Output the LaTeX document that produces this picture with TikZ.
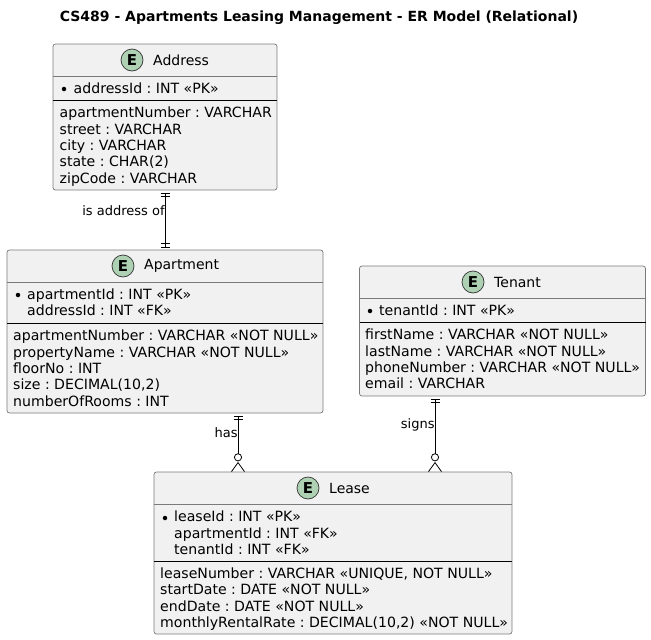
\documentclass[tikz,border=0pt]{standalone}
\usepackage{fontspec}
\setmainfont{DejaVu Sans}
\usepackage{xcolor}
\usepackage{tikz}
\usetikzlibrary{arrows.meta}
\usetikzlibrary{positioning}
\definecolor{boxfill}{HTML}{F1F1F1}
\definecolor{boxline}{HTML}{7A7A7A}
\definecolor{spot}{HTML}{ADD1B2}
\frenchspacing
\tikzstyle{entity} = [rectangle, draw=boxline, fill=boxfill, line width=.7pt, rounded corners=2.5pt, inner sep=0pt, outer sep=0pt]
\tikzstyle{spotE} = [circle, draw=black!80, fill=spot, line width=.7pt, minimum size=22pt, inner sep=0pt, font=\fontsize{15}{16}\selectfont\bfseries]
\tikzstyle{entname} = [anchor=west, inner sep=0pt, font=\fontsize{14}{16}\selectfont]
\tikzstyle{fields} = [anchor=north west, inner sep=0pt, align=left, font=\fontsize{14.1}{16.3}\selectfont]
\tikzstyle{dot} = [circle, fill=black, inner sep=0pt, minimum size=4.5pt]
\tikzstyle{headrule} = [draw=boxline, line width=.7pt]
\tikzstyle{keyrule} = [draw=black, line width=.8pt]
\tikzstyle{lbl} = [left, inner sep=0pt, font=\fontsize{13}{15}\selectfont]
\tikzset{
  oneone/.style={line width=.8pt, {Bar[width=9pt,line width=.8pt,sep=2.8pt]Bar[width=9pt,line width=.8pt,sep=2.4pt]}-{Bar[width=9pt,line width=.8pt,sep=2.8pt]Bar[width=9pt,line width=.8pt,sep=2.4pt]}},
  onemany/.style={line width=.8pt, {Bar[width=9pt,line width=.8pt,sep=2.8pt]Bar[width=9pt,line width=.8pt,sep=2.4pt]}-{Circle[open,fill=white,length=8pt,width=8pt,line width=.8pt,sep=.6pt].Straight Barb[reversed,length=9pt,width=13pt,line width=.8pt,sep=0pt]}}
}

\begin{document}
\begin{tikzpicture}[x=1pt, y=-1pt]
  \useasboundingbox (0,0) rectangle (651,640);

  % Title
  \node [inner sep=0pt, font=\fontsize{14}{16}\selectfont\bfseries] (title) at (319,18) {CS489 - Apartments Leasing Management - ER Model (Relational)};

  % Place entities
  \node [entity, minimum width=224pt, minimum height=146pt] (address) at (165,117) {};
  \node [entity, minimum width=316pt, minimum height=163pt] (apartment) at (165,331.5) {};
  \node [entity, minimum width=286pt, minimum height=130pt] (tenant) at (502.5,331) {};
  \node [entity, minimum width=358pt, minimum height=162pt] (lease) at (333,553) {};

  % Address
  \node [spotE] (addressE) at (132,60) {E};
  \node [entname] (addressName) at (153,60) {Address};
  \path [headrule] (address.west |- 0,76) -- (address.east |- 0,76);
  \path [keyrule] (address.west |- 0,100) -- (address.east |- 0,100);
  \node [dot] (addressDot) at (64,89) {};
  \node [fields] (addressKey) at (73.5,82.5) {addressId : INT «PK»};
  \node [fields] (addressAttr) at (59.5,107) {apartmentNumber : VARCHAR\\street : VARCHAR\\city : VARCHAR\\state : CHAR(2)\\zipCode : VARCHAR};

  % Apartment
  \node [spotE] (apartmentE) at (123,266) {E};
  \node [entname] (apartmentName) at (144,266) {Apartment};
  \path [headrule] (apartment.west |- 0,282) -- (apartment.east |- 0,282);
  \path [keyrule] (apartment.west |- 0,323) -- (apartment.east |- 0,323);
  \node [dot] (apartmentDot) at (18,295) {};
  \node [fields] (apartmentKey) at (27,288.5) {apartmentId : INT «PK»\\addressId : INT «FK»};
  \node [fields] (apartmentAttr) at (13,330) {apartmentNumber : VARCHAR «NOT NULL»\\propertyName : VARCHAR «NOT NULL»\\floorNo : INT\\size : DECIMAL(10,2)\\numberOfRooms : INT};

  % Tenant
  \node [spotE] (tenantE) at (473,282) {E};
  \node [entname] (tenantName) at (494,282) {Tenant};
  \path [headrule] (tenant.west |- 0,298) -- (tenant.east |- 0,298);
  \path [keyrule] (tenant.west |- 0,322) -- (tenant.east |- 0,322);
  \node [dot] (tenantDot) at (370,311) {};
  \node [fields] (tenantKey) at (379,304.5) {tenantId : INT «PK»};
  \node [fields] (tenantAttr) at (365,329) {firstName : VARCHAR «NOT NULL»\\lastName : VARCHAR «NOT NULL»\\phoneNumber : VARCHAR «NOT NULL»\\email : VARCHAR};

  % Lease
  \node [spotE] (leaseE) at (308,488) {E};
  \node [entname] (leaseName) at (329,488) {Lease};
  \path [headrule] (lease.west |- 0,504) -- (lease.east |- 0,504);
  \path [keyrule] (lease.west |- 0,561) -- (lease.east |- 0,561);
  \node [dot] (leaseDot) at (165,518) {};
  \node [fields] (leaseKey) at (174,511) {leaseId : INT «PK»\\apartmentId : INT «FK»\\tenantId : INT «FK»};
  \node [fields] (leaseAttr) at (160,567.5) {leaseNumber : VARCHAR «UNIQUE, NOT NULL»\\startDate : DATE «NOT NULL»\\endDate : DATE «NOT NULL»\\monthlyRentalRate : DECIMAL(10,2) «NOT NULL»};

  % Connectors
  \draw [oneone] (address.south) -- node [lbl, pos=.35] {is address of} (apartment.north);
  \draw [onemany] ([xshift=73pt]apartment.south) -- node [lbl, pos=.34] {has} ([xshift=-95pt]lease.north);
  \draw [onemany] ([xshift=-67.5pt]tenant.south) -- node [lbl, pos=.38] {signs} ([xshift=102pt]lease.north);
\end{tikzpicture}
\end{document}
